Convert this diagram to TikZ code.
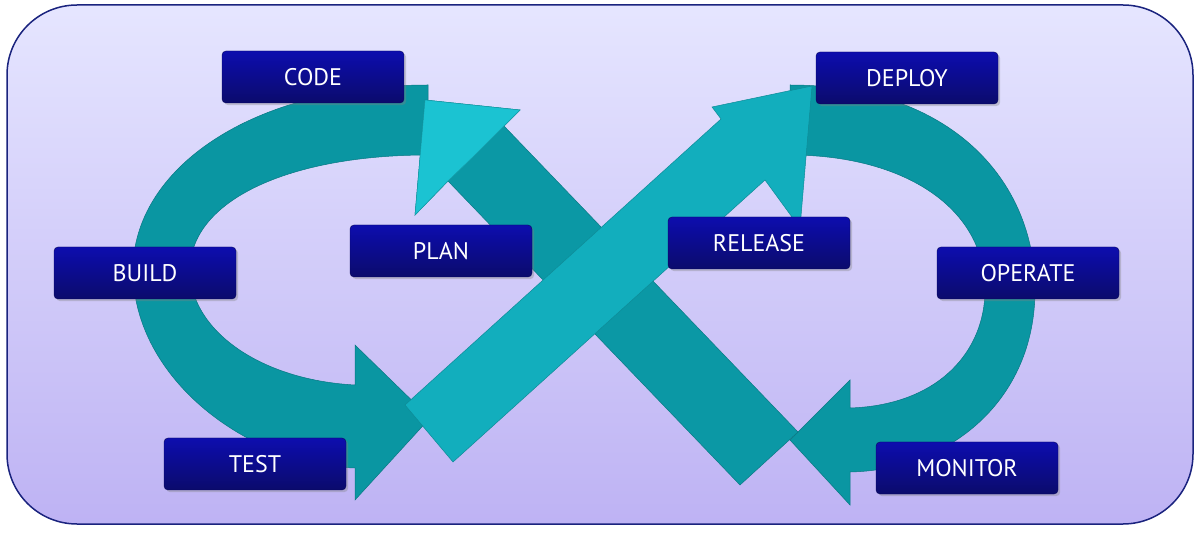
\documentclass[tikz,border=0pt]{standalone}
\usepackage{fontspec}
\setsansfont{PT Sans}
\usetikzlibrary{shadows}
\definecolor{frameblue}{HTML}{1A237E}
\definecolor{loopteal}{HTML}{0A96A2}
\definecolor{arrowteal}{HTML}{12AEBD}
\definecolor{headcyan}{HTML}{1BC3D2}
\definecolor{boxblue}{HTML}{10109A}
\tikzset{
  stagebox/.style={rectangle, rounded corners=4pt, minimum width=182pt, minimum height=52pt,
    top color=boxblue!80!blue, bottom color=boxblue!70!black, draw=boxblue!60!black,
    text=white, font=\sffamily\fontsize{24}{28}\selectfont, drop shadow={opacity=.35}},
  band/.style={fill=#1, draw=#1!80!black, line width=.5pt}
}
\begin{document}
\begin{tikzpicture}[x=1pt, y=-1pt]
    \useasboundingbox (0,0) rectangle (1200,534);
    \shade[top color=blue!10!white, bottom color=blue!70!violet!30!white, rounded corners=70pt]
        (7,5) rectangle (1193,524); % frame
    \draw[frameblue, line width=1.5pt, rounded corners=70pt] (7,5) rectangle (1193,524);

    % left loop
    \path[band=loopteal] (428,85) .. controls (250,85) and (133,170) .. (133,270)
        .. controls (133,380) and (250,465) .. (355,468) -- (355,500) -- (430,418) -- (355,345)
        -- (355,385) .. controls (260,380) and (190,330) .. (190,270)
        .. controls (190,200) and (290,155) .. (428,155) -- cycle;
    % right loop
    \path[band=loopteal] (790,85) .. controls (950,85) and (1035,180) .. (1035,290)
        .. controls (1035,400) and (950,470) .. (850,472) -- (850,505) -- (790,440) -- (850,380)
        -- (850,408) .. controls (940,405) and (985,350) .. (985,290)
        .. controls (985,205) and (900,155) .. (790,155) -- cycle;

    % diagonal towards CODE
    \path[band=loopteal!90!arrowteal] (798,432) -- (504,126) -- (520,110) -- (425,100)
        -- (415,215) -- (448,181) -- (740,485) -- cycle;
    \path[band=headcyan] (504,126) -- (520,110) -- (425,100) -- (415,215) -- (448,181) -- (476,154) -- cycle;
    % diagonal towards DEPLOY
    \path[band=arrowteal] (405,405) -- (721,119) -- (712,107) -- (812,86)
        -- (800,228) -- (765,180) -- (453,462) -- cycle;

    \node[stagebox] (code) at (313,77) {CODE};
    \node[stagebox] (deploy) at (907,78) {DEPLOY};
    \node[stagebox] (build) at (145,273) {BUILD};
    \node[stagebox] (plan) at (441,251) {PLAN};
    \node[stagebox] (release) at (759,243) {RELEASE};
    \node[stagebox] (operate) at (1028,273) {OPERATE};
    \node[stagebox] (test) at (255,464) {TEST};
    \node[stagebox] (monitor) at (967,468) {MONITOR};
\end{tikzpicture}
\end{document}
